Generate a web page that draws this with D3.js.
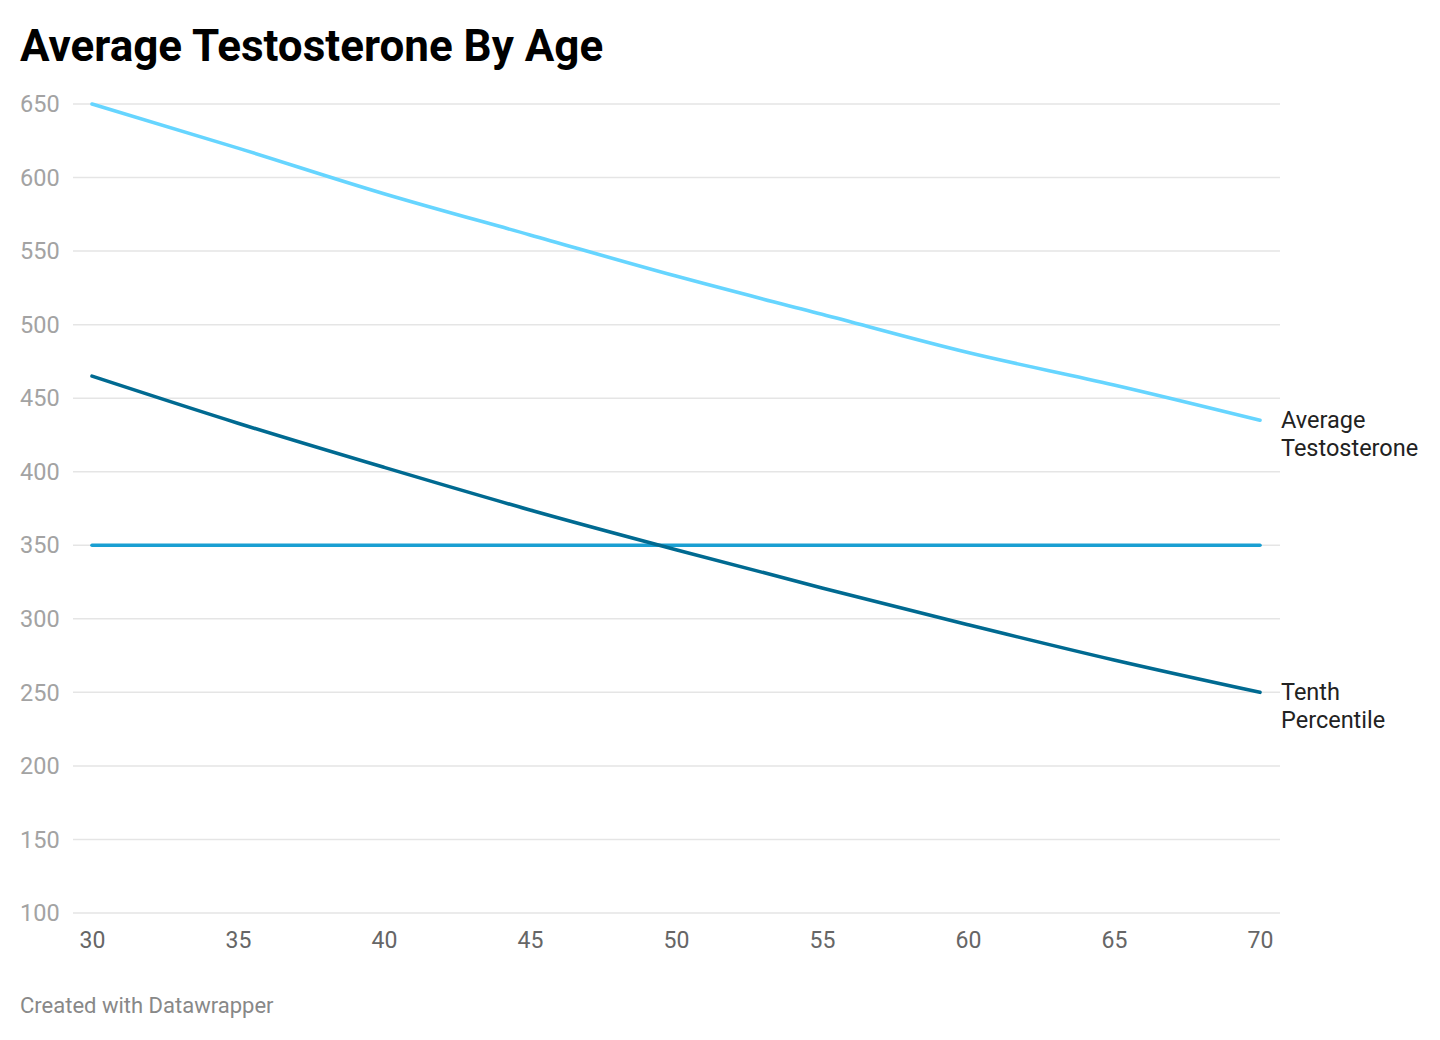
<!DOCTYPE html>
<html>
<head>
<meta charset="utf-8">
<script src="https://cdn.jsdelivr.net/npm/d3@7"></script>
<style>
  html, body { margin: 0; padding: 0; background: #fff; }
  svg { display: block; font-family: Roboto, "Noto Sans", sans-serif; }
</style>
</head>
<body>
<svg id="chart" width="1440" height="1040"></svg>
<script>
const ages = [30, 35, 40, 45, 50, 55, 60, 65, 70];
const averageT = [650, 620, 589, 561, 533, 507, 481, 459, 435];
const tenthPct = [465, 433, 403, 374, 347, 321, 296, 272, 250];
const lowThreshold = [350, 350, 350, 350, 350, 350, 350, 350, 350];
const yTicks = [100, 150, 200, 250, 300, 350, 400, 450, 500, 550, 600, 650];
const xTicks = [30, 35, 40, 45, 50, 55, 60, 65, 70];

const svg = d3.select("#chart");
const x = d3.scaleLinear().domain([30, 70]).range([92, 1260]);
const y = d3.scaleLinear().domain([100, 650]).range([913, 104]);

// title
svg.append("text").attr("x", 20).attr("y", 61)
  .attr("font-size", 44).attr("font-weight", 700).attr("fill", "#000")
  .text("Average Testosterone By Age");

// gridlines
svg.append("g").selectAll("line").data(yTicks).join("line")
  .attr("x1", 73).attr("x2", 1280)
  .attr("y1", d => y(d)).attr("y2", d => y(d))
  .attr("stroke", "#e5e5e5").attr("stroke-width", 1.5);

// y labels
svg.append("g").selectAll("text").data(yTicks).join("text")
  .attr("x", 20).attr("y", d => y(d)).attr("dy", "0.35em")
  .attr("font-size", 23.5).attr("fill", "#a3a3a3")
  .text(d => d);

// x axis
const xAxis = d3.axisBottom(x).tickValues(xTicks).tickSize(0).tickPadding(0).tickFormat(d3.format("d"));
const gx = svg.append("g").attr("transform", "translate(0,932)").call(xAxis);
gx.select(".domain").remove();
gx.selectAll("text").attr("font-size", 23).attr("fill", "#666")
  .attr("font-family", "Roboto, 'Noto Sans', sans-serif").attr("dy", "0.71em");

// lines
const line = d3.line().curve(d3.curveMonotoneX).x((d, i) => x(ages[i])).y(d => y(d));
const series = [
  { values: lowThreshold, color: "#1a9fd2" },
  { values: averageT, color: "#66d5ff" },
  { values: tenthPct, color: "#006a91" }
];
svg.append("g").selectAll("path").data(series).join("path")
  .attr("d", d => line(d.values))
  .attr("fill", "none").attr("stroke", d => d.color)
  .attr("stroke-width", 3.6).attr("stroke-linecap", "round").attr("stroke-linejoin", "round");

// end labels
const labels = [
  { lines: ["Average", "Testosterone"], v: averageT[averageT.length - 1] },
  { lines: ["Tenth", "Percentile"], v: tenthPct[tenthPct.length - 1] }
];
labels.forEach(l => {
  const t = svg.append("text").attr("x", 1281).attr("y", y(l.v) + 7.8)
    .attr("font-size", 23.5).attr("fill", "#222");
  l.lines.forEach((s, i) => {
    t.append("tspan").attr("x", 1281).attr("dy", i === 0 ? 0 : 27.5).text(s);
  });
});

// footer
svg.append("text").attr("x", 20).attr("y", 1013)
  .attr("font-size", 22).attr("fill", "#888")
  .text("Created with Datawrapper");
</script>
</body>
</html>
